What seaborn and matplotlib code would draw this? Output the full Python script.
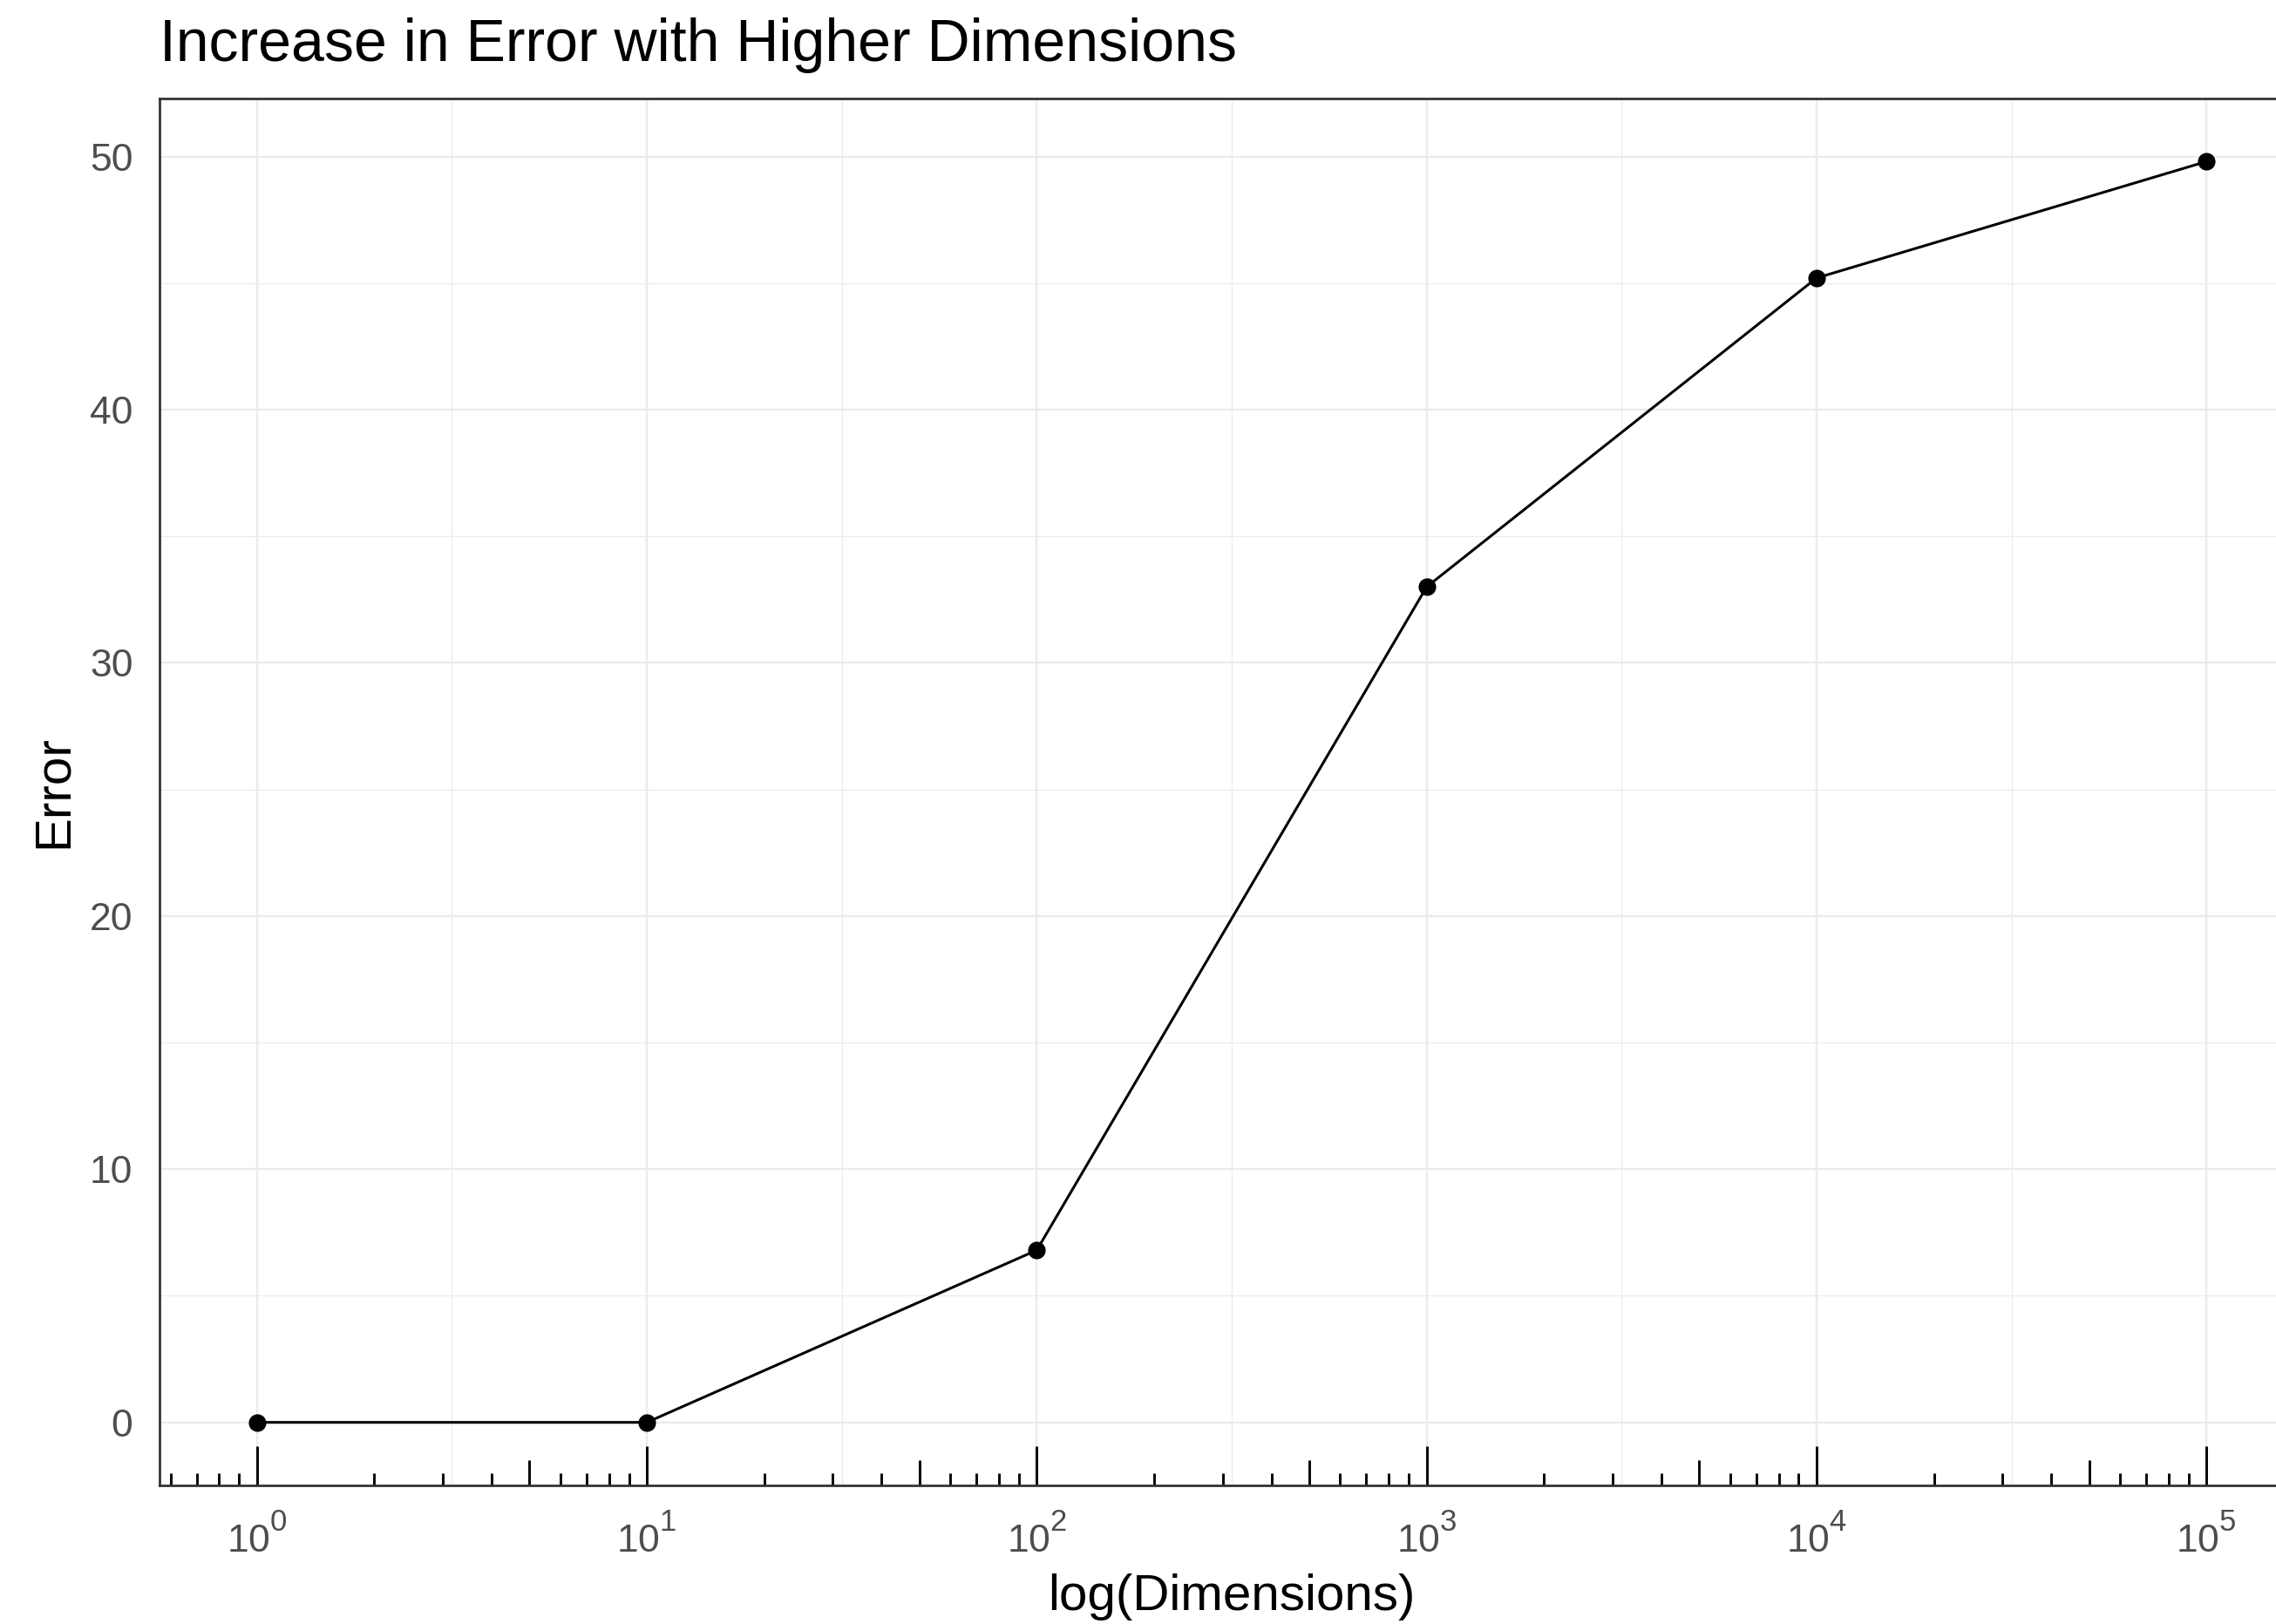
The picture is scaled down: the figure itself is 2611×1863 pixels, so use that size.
import numpy as np
import pandas as pd
import matplotlib
matplotlib.use("Agg")
import matplotlib.pyplot as plt
import seaborn as sns
from matplotlib.ticker import FixedLocator, FixedFormatter

# make superscripts a bit larger and higher (like R plotmath)
try:
    import matplotlib._mathtext as _mt
    _mt.SHRINK_FACTOR = 0.78
    _mt.FontConstantsBase.sup1 = 1.0
except Exception:
    pass

# ---- data ----
dimensions = [1, 10, 100, 1000, 10000, 100000]
error = [0.0, 0.0, 6.8, 33.0, 45.2, 49.8]
x_major = [1, 10, 100, 1000, 10000, 100000]
x_tick_labels = [r"$\mathregular{10^{0}}$", r"$\mathregular{10^{1}}$", r"$\mathregular{10^{2}}$",
                 r"$\mathregular{10^{3}}$", r"$\mathregular{10^{4}}$", r"$\mathregular{10^{5}}$"]
y_major = [0, 10, 20, 30, 40, 50]
y_tick_labels = ["0", "10", "20", "30", "40", "50"]
title = "Increase in Error with Higher Dimensions"
x_title = "log(Dimensions)"
y_title = "Error"

df = pd.DataFrame({"Dimensions": dimensions, "Error": error})

sns.set_theme(style="white")
plt.rcParams["font.family"] = ["Liberation Sans", "DejaVu Sans"]
plt.rcParams["mathtext.fontset"] = "custom"
plt.rcParams["mathtext.rm"] = "Liberation Sans"
plt.rcParams["mathtext.it"] = "Liberation Sans:italic"
plt.rcParams["mathtext.bf"] = "Liberation Sans:bold"

W, H = 2611, 1863
DPI = 100
fig = plt.figure(figsize=(W / DPI, H / DPI), dpi=DPI)
fig.patch.set_facecolor("white")

# panel (extends past right edge, as in reference)
left, right, top, bottom = 183, 2643, 113, 1704
ax = fig.add_axes([left / W, 1 - bottom / H, (right - left) / W, (bottom - top) / H])
ax.set_facecolor("white")

ax.set_xscale("log")
lx0, lx1 = np.log10(min(dimensions)), np.log10(max(dimensions))
ex = (lx1 - lx0) * 0.05
ax.set_xlim(10 ** (lx0 - ex), 10 ** (lx1 + ex))
ey = (max(error) - min(error)) * 0.05
ax.set_ylim(min(error) - ey, max(error) + ey)

# grid
ax.xaxis.set_major_locator(FixedLocator(x_major))
ax.xaxis.set_major_formatter(FixedFormatter(x_tick_labels))
x_minor = [10 ** (np.log10(v) + 0.5) for v in x_major]
ax.xaxis.set_minor_locator(FixedLocator(x_minor))
ax.yaxis.set_major_locator(FixedLocator(y_major))
ax.yaxis.set_major_formatter(FixedFormatter(y_tick_labels))
y_minor = [v + 5 for v in y_major[:-1]]
ax.yaxis.set_minor_locator(FixedLocator(y_minor))

ax.grid(which="major", color="#EBEBEB", linewidth=1.7, zorder=0)
ax.grid(which="minor", color="#EBEBEB", linewidth=0.85, zorder=0)
ax.set_axisbelow(True)

# data
sns.lineplot(data=df, x="Dimensions", y="Error", ax=ax, color="black",
             linewidth=2.2, marker="o", markersize=14.5, markeredgewidth=0,
             markerfacecolor="black", zorder=3)

# log ticks (annotation_logticks style, bottom side)
xmin, xmax = ax.get_xlim()
short_t, mid_t, long_t = [], [], []
for k in range(-1, 7):
    for m in range(1, 10):
        v = m * 10.0 ** k
        if xmin <= v <= xmax:
            if m == 1:
                long_t.append(v)
            elif m == 5:
                mid_t.append(v)
            else:
                short_t.append(v)
ph = bottom - top
trans = ax.get_xaxis_transform()
for vals, length in ((short_t, 14), (mid_t, 29), (long_t, 45)):
    ax.vlines(vals, 0, length / ph, transform=trans, color="black",
              linewidth=2.1, zorder=4, clip_on=False)

# spines
for s in ax.spines.values():
    s.set_visible(True)
    s.set_color("#333333")
    s.set_linewidth(2.0)
    s.set_zorder(5)

ax.tick_params(axis="both", which="minor", length=0)
ax.tick_params(axis="y", which="major", direction="out", length=11.5, width=2.0,
               color="#333333", labelsize=32, labelcolor="#4D4D4D", pad=10.5)
ax.tick_params(axis="x", which="major", direction="out", length=10, width=2.0,
               color="#333333", labelsize=32, labelcolor="#4D4D4D", pad=14)

ax.set_xlabel(x_title, fontsize=42, color="black", labelpad=11)
ax.set_ylabel(y_title, fontsize=42, color="black", labelpad=10)
ax.set_title(title, loc="left", fontsize=49, color="black", pad=31)

fig.savefig("out.png", dpi=DPI, facecolor="white")
